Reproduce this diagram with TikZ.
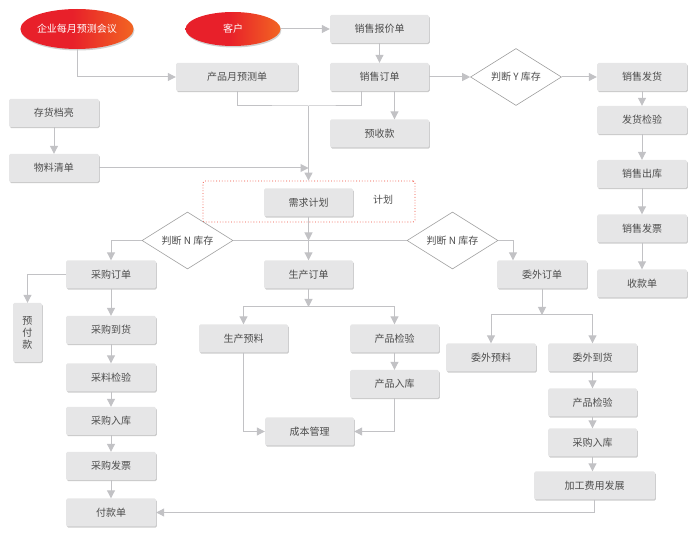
\documentclass[tikz,border=0pt]{standalone}
\usepackage{fontspec}
\usepackage{xcolor}
\usepackage{tikz}
\usetikzlibrary{arrows.meta,positioning,calc,shapes.geometric,shadows}
\newfontfamily\cjkfont{Noto Sans CJK SC}
\definecolor{boxfill}{HTML}{E6E6E7}
\definecolor{boxtext}{HTML}{4D4D4D}
\definecolor{linegray}{HTML}{C2C2C5}
\definecolor{diamondline}{HTML}{A0A0A0}
\definecolor{ovalred}{HTML}{E8202A}
\definecolor{ovalorange}{HTML}{F26522}
\definecolor{planred}{HTML}{EF4A3A}
\pgfdeclarehorizontalshading{ovalshade}{100bp}{color(0bp)=(ovalred); color(25bp)=(ovalred); color(48bp)=(ovalred); color(75bp)=(ovalorange); color(100bp)=(ovalorange)}

\begin{document}
\begin{tikzpicture}[
    x=1pt, y=-1pt,
    stepbox/.style={
        fill=boxfill,
        rounded corners=1.5pt,
        minimum width=90pt,
        minimum height=28pt,
        inner sep=2pt,
        text=boxtext,
        font=\cjkfont\fontsize{10}{12}\selectfont,
        drop shadow={shadow xshift=0.8pt, shadow yshift=-1.2pt, fill=black!25, opacity=0.8}
    },
    oval/.style={
        ellipse,
        shading=ovalshade,
        text=white,
        inner sep=0pt,
        font=\cjkfont\fontsize{10}{12}\selectfont,
        drop shadow={shadow xshift=0.8pt, shadow yshift=-1.5pt, fill=black!30, opacity=0.6}
    },
    check/.style={
        diamond, aspect=1.6,
        draw=diamondline, line width=0.6pt,
        fill=white,
        inner sep=0pt,
        minimum width=91pt,
        minimum height=57pt,
        text=boxtext,
        font=\cjkfont\fontsize{10}{12}\selectfont
    },
    line/.style={linegray, line width=1pt},
    arrow/.style={line, -{Triangle[length=8pt, width=8pt]}}
]
\useasboundingbox (0,0) rectangle (697,537);

% Top: meetings, customer and sales
\node[oval, minimum width=113pt, minimum height=40pt] (meeting) at (77,29) {企业每月预测会议};
\node[oval, minimum width=95pt, minimum height=34pt] (customer) at (233,29) {客户};
\node[stepbox, minimum width=99pt] (quote) at (379.5,29) {销售报价单};
\node[stepbox, minimum width=122pt] (forecast) at (237,77) {产品月预测单};
\node[stepbox, minimum width=99pt] (order) at (379.5,77) {销售订单};
\node[stepbox, minimum width=99pt] (advance) at (379.5,133.5) {预收款};
\node[check] (ycheck) at (516,77) {判断 Y 库存};

% Right column: shipping
\node[stepbox] (ship) at (642,77) {销售发货};
\node[stepbox] (shipqc) at (642,120) {发货检验};
\node[stepbox] (shipout) at (642,174) {销售出库};
\node[stepbox] (sinvoice) at (642,228.5) {销售发票};
\node[stepbox] (receipt) at (642,283.5) {收款单};

% Left: stock and BOM
\node[stepbox] (stock) at (54,113) {存货档亮};
\node[stepbox] (bom) at (54,168) {物料清单};

% Plan
\node[draw=planred, dotted, line width=0.8pt, rounded corners=2pt,
      minimum width=212pt, minimum height=41pt] (planbox) at (309,201.5) {};
\node[stepbox, minimum width=89pt] (demand) at (308.5,202.5) {需求计划};
\node[text=boxtext, font=\cjkfont\fontsize{10}{12}\selectfont] (plantext) at (383,200) {计划};
\coordinate (merge) at (308.5,106);

\node[check] (ncheckl) at (187.5,240.5) {判断 N 库存};
\node[check] (ncheckr) at (452.5,240.5) {判断 N 库存};

% Purchase column
\node[stepbox] (porder) at (111,274.5) {采购订单};
\node[stepbox, minimum width=29pt, minimum height=59pt, align=center] (prepay) at (27.5,332.5) {预\\付\\款};
\node[stepbox] (parrive) at (111,330) {采购到货};
\node[stepbox] (pcheck) at (111,377.5) {采料检验};
\node[stepbox] (pstock) at (111,421) {采购入库};
\node[stepbox] (pinvoice) at (111,466) {采购发票};
\node[stepbox] (payment) at (111,512.5) {付款单};

% Production column
\node[stepbox, minimum width=89pt] (morder) at (308.5,274.5) {生产订单};
\coordinate (msplit) at (308.5,307);
\node[stepbox, minimum width=89pt] (mprep) at (243.5,338.5) {生产预料};
\node[stepbox, minimum width=89pt] (mcheck) at (394.5,338.5) {产品检验};
\node[stepbox, minimum width=89pt] (mstock) at (394.5,384) {产品入库};
\node[stepbox, minimum width=89pt] (cost) at (309.5,431.5) {成本管理};

% Outsourcing column
\node[stepbox] (oorder) at (542,274.5) {委外订单};
\coordinate (osplit) at (542,315);
\node[stepbox] (oprep) at (491,357.5) {委外预料};
\node[stepbox, minimum width=89pt] (oarrive) at (592.5,357.5) {委外到货};
\node[stepbox, minimum width=89pt] (ocheck) at (592.5,402.5) {产品检验};
\node[stepbox, minimum width=89pt] (ostock) at (592.5,442.5) {采购入库};
\node[stepbox, minimum width=121pt] (fee) at (594.5,485.5) {加工费用发展};

% Connectors
\draw[arrow] (customer.east) -- (quote.west);
\draw[arrow] (meeting.south) |- (forecast.west);
\draw[arrow] (quote.south) -- (order.north);
\draw[arrow] (order.east) -- (ycheck.west);
\draw[arrow] (ycheck.east) -- (ship.west);
\draw[arrow] ([xshift=15pt]order.south) -- ([xshift=15pt]advance.north);
\draw[line] (forecast.south) |- (merge) -| ([xshift=-18.5pt]order.south);
\draw[arrow] (merge) -- (merge |- planbox.north);
\draw[arrow] (stock.south) -- (bom.north);
\draw[arrow] (bom.east) -- (bom.east -| merge);

\draw[arrow] (ship.south) -- (shipqc.north);
\draw[arrow] (shipqc.south) -- (shipout.north);
\draw[arrow] (shipout.south) -- (sinvoice.north);
\draw[arrow] (sinvoice.south) -- (receipt.north);

\draw[line] (ncheckl.east) -- (ncheckr.west);
\draw[arrow] (demand.south) -- (demand.south |- ncheckl.east);
\draw[arrow] (demand.south |- ncheckl.east) -- (morder.north);
\draw[arrow] (ncheckl.west) -| (porder.north);
\draw[arrow] (ncheckr.east) -| ([xshift=-29pt]oorder.north);

\draw[arrow] (porder.west) -| (prepay.north);
\draw[arrow] (porder.south) -- (parrive.north);
\draw[arrow] (parrive.south) -- (pcheck.north);
\draw[arrow] (pcheck.south) -- (pstock.north);
\draw[arrow] (pstock.south) -- (pinvoice.north);
\draw[arrow] (pinvoice.south) -- (payment.north);

\draw[arrow] (morder.south) -- (msplit);
\draw[arrow] (msplit) -| (mprep.north);
\draw[arrow] (msplit) -| (mcheck.north);
\draw[arrow] (mcheck.south) -- (mstock.north);
\draw[arrow] (mprep.south) |- (cost.west);
\draw[arrow] (mstock.south) |- (cost.east);

\draw[arrow] (oorder.south) -- (osplit);
\draw[arrow] (osplit) -| (oprep.north);
\draw[arrow] (osplit) -| (oarrive.north);
\draw[arrow] (oarrive.south) -- (ocheck.north);
\draw[arrow] (ocheck.south) -- (ostock.north);
\draw[arrow] (ostock.south) -- (ostock.south |- fee.north);
\draw[arrow] (fee.south) |- (payment.east);

\end{tikzpicture}
\end{document}
